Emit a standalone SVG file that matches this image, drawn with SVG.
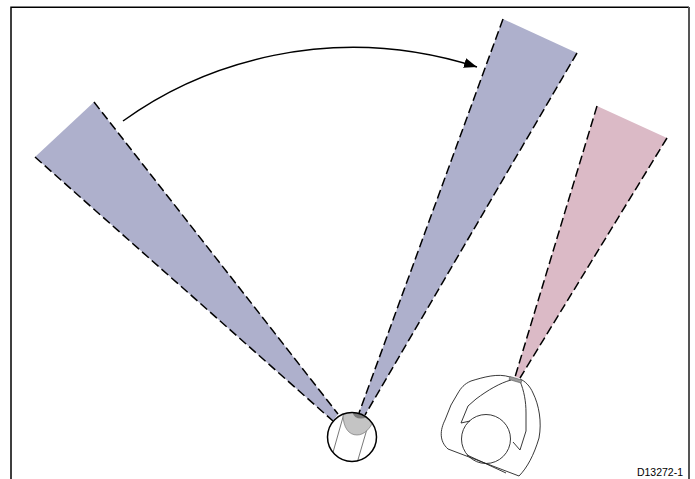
<svg xmlns="http://www.w3.org/2000/svg" width="695" height="479" viewBox="0 0 695 479">
  <style>
    .frame { fill: none; stroke: #000; stroke-width: 1.5; }
    .beam-blue { fill: #aeb0cc; stroke: none; }
    .beam-pink { fill: #dbbac6; stroke: none; }
    .edge { fill: none; stroke: #000; stroke-width: 1.5; stroke-dasharray: 9 4; }
    .outline { fill: none; stroke: #222; stroke-width: 0.9; }
    .thin { fill: none; stroke: #555; stroke-width: 0.8; }
    .label { font-family: "Liberation Sans", Arial, sans-serif; font-size: 10.5px; fill: #000; }
  </style>
  <defs>
    <marker id="arrowhead" markerUnits="userSpaceOnUse" markerWidth="14" markerHeight="12" refX="13" refY="5" orient="auto">
      <path d="M0,0 L13,5 L0,10 Z" fill="#000"/>
    </marker>
    <clipPath id="clip-round">
      <circle cx="352" cy="437" r="24.5"/>
    </clipPath>
  </defs>

  <!-- frame -->
  <g id="frame">
    <path class="frame" d="M11,479 L11,7.3 L689,7.3"/>
    <line x1="689" y1="7" x2="689" y2="479" stroke="#555" stroke-width="2"/>
  </g>

  <!-- left beam (start position) -->
  <g id="beam-left">
    <polygon class="beam-blue" points="94,102 35,157 333,421 338,414"/>
    <line class="edge" x1="94" y1="102" x2="338" y2="414"/>
    <line class="edge" x1="35" y1="157" x2="333" y2="421"/>
  </g>

  <!-- middle beam (end position) -->
  <g id="beam-middle">
    <polygon class="beam-blue" points="503,19 577,53 365,415 359,413"/>
    <line class="edge" x1="503" y1="19" x2="359" y2="413"/>
    <line class="edge" x1="577" y1="53" x2="365" y2="415"/>
  </g>

  <!-- pink beam from the vessel -->
  <g id="beam-pink">
    <polygon class="beam-pink" points="597,106 667,138 520,378 515,377"/>
    <line class="edge" x1="597" y1="106" x2="515" y2="377"/>
    <line class="edge" x1="667" y1="138" x2="520" y2="378"/>
  </g>

  <!-- connectors -->
  <g id="connectors">
    <path d="M123,121 C200,65 330,20 477,67" fill="none" stroke="#000" stroke-width="1.5" marker-end="url(#arrowhead)"/>
  </g>

  <!-- round transducer detail -->
  <g id="transducer-round">
    <circle cx="352" cy="437" r="24.5" fill="#fff"/>
    <g clip-path="url(#clip-round)">
      <line class="thin" x1="347" y1="403" x2="328" y2="470"/>
      <line class="thin" x1="374" y1="405" x2="355" y2="470"/>
      <path d="M343,405 L343,414 C343,428 349,435 357,435 C364,435 370,429 374,420 L374,405 Z" fill="#c4c4c4" stroke="#666" stroke-width="0.6"/>
      <ellipse cx="361" cy="413" rx="8" ry="5.5" fill="#7a7a7a"/>
    </g>
    <circle cx="352" cy="437" r="24.5" fill="none" stroke="#000" stroke-width="1.5"/>
  </g>

  <!-- vessel outline -->
  <g id="vessel">
    <path class="outline" d="M510,377 C498,373 484,377 471,381 C464,384 461,388 458,393 L451,405 L445,420 C440,430 439,441 448,449 L519,476 C527,468 534,455 539,438 C542,422 539,405 533,393 C530,386 525,381 520,379"/>
    <path class="outline" d="M511,380 C500,383 488,390 476,399 L468,406 L461,423 L470,421"/>
    <path class="outline" d="M520,381 C524,391 526,401 526,413 L526,431 L520,450 L513,442"/>
    <circle class="outline" cx="486" cy="439" r="24.5"/>
    <path class="outline" d="M467,455 L506,473"/>
    <polygon points="510,376.5 522,380 521,383 509,379.5" fill="#9a9a9a" stroke="#555" stroke-width="0.6"/>
  </g>

  <g id="label">
    <text class="label" x="683" y="476" text-anchor="end">D13272-1</text>
  </g>
</svg>
